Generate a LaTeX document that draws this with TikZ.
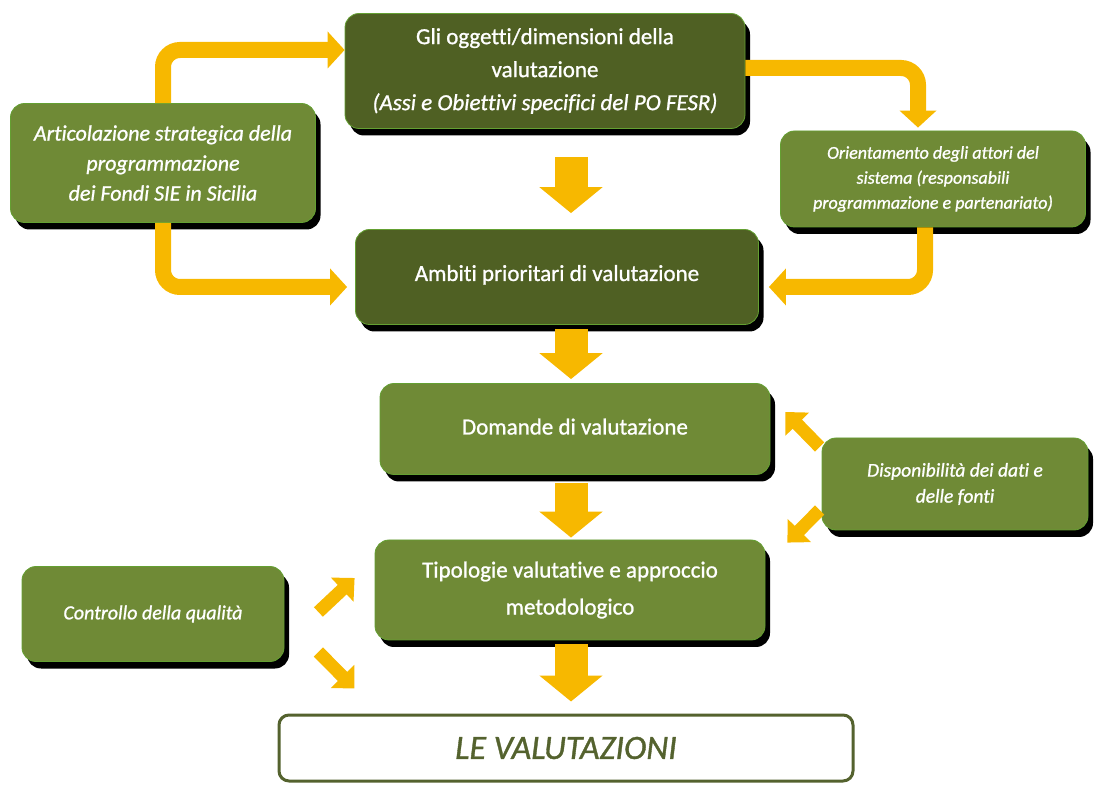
\documentclass[tikz,border=0pt]{standalone}
\usepackage{fontspec}
\setmainfont{Carlito}[Ligatures=NoCommon,
  BoldFont={Carlito}, BoldFeatures={FakeBold=1},
  BoldItalicFont={Carlito Italic}, BoldItalicFeatures={FakeBold=1}]
\usetikzlibrary{arrows.meta,shadows}

\definecolor{darkolive}{RGB}{79,96,35}
\definecolor{lightolive}{RGB}{111,138,54}
\definecolor{boxedge}{RGB}{100,160,50}
\definecolor{arrowgold}{RGB}{247,184,0}
\definecolor{resultolive}{RGB}{84,98,46}

\begin{document}
\begin{tikzpicture}[
    x=1pt, y=1pt,
    box/.style={rounded corners=14pt, draw=boxedge, line width=0.8pt, align=center, text=white, inner sep=4pt,
      drop shadow={shadow xshift=5pt, shadow yshift=-7pt, fill=black, opacity=1}},
    darkbox/.style={box, fill=darkolive, font=\fontsize{23}{33}\selectfont\bfseries},
    lightbox/.style={box, fill=lightolive, font=\fontsize{23}{37}\selectfont\bfseries},
    sidebox/.style={box, fill=lightolive, font=\fontsize{18}{25}\selectfont\bfseries\itshape},
    resultbox/.style={draw=resultolive, line width=3pt, rounded corners=10pt, fill=white, text=resultolive,
      font=\fontsize{34}{40}\selectfont\bfseries\itshape},
    bendarrow/.style={draw=arrowgold, line width=16pt, rounded corners=17pt, -{Triangle[length=17pt,width=36pt]}},
    blockarrow/.style={draw=arrowgold, line width=33pt, -{Triangle[length=26pt,width=62pt]}},
    smallarrow/.style={draw=arrowgold, line width=13pt, -{Triangle[length=17pt,width=32pt]}}
  ]
    \useasboundingbox (0,0) rectangle (1099,784);

    \node[darkbox, minimum width=400pt, minimum height=115pt] (obiettivi) at (545,713)
      {Gli oggetti/dimensioni della\\valutazione\\\textit{(Assi e Obiettivi specifici del PO FESR)}};
    \node[sidebox, font=\fontsize{22}{30}\selectfont\bfseries\itshape, minimum width=305pt, minimum height=119pt] (articolazione) at (163,621)
      {Articolazione strategica della\\programmazione\\dei Fondi SIE in Sicilia};
    \node[sidebox, minimum width=305pt, minimum height=96pt] (orientamento) at (933,605)
      {Orientamento degli attori del\\sistema (responsabili\\programmazione e partenariato)};
    \node[darkbox, minimum width=403pt, minimum height=95pt] (ambiti) at (557,507)
      {\raisebox{8pt}{Ambiti prioritari di valutazione}};
    \node[lightbox, minimum width=390pt, minimum height=91pt] (domande) at (575,355)
      {\raisebox{5pt}{Domande di valutazione}};
    \node[sidebox, font=\fontsize{19.5}{26}\selectfont\bfseries\itshape, minimum width=266pt, minimum height=92pt] (disponibilita) at (955,300)
      {Disponibilità dei dati e\\delle fonti};
    \node[lightbox, minimum width=390pt, minimum height=100pt] (tipologie) at (570,194)
      {Tipologie valutative e approccio\\metodologico};
    \node[sidebox, font=\fontsize{20}{25}\selectfont\bfseries\itshape, minimum width=262pt, minimum height=95pt] (qualita) at (153,170)
      {Controllo della qualità};
    \node[resultbox, minimum width=574pt, minimum height=66pt] (valutazioni) at (566,36)
      {LE VALUTAZIONI};

    \coordinate (spine) at (571,0);

    \draw[bendarrow] (articolazione.north) |- ([yshift=21pt]obiettivi.west);
    \draw[bendarrow] (articolazione.south) |- ([yshift=-10pt, xshift=-8pt]ambiti.west);
    \draw[bendarrow] ([yshift=3pt]obiettivi.east) -| ([xshift=-15pt, yshift=3pt]orientamento.north);
    \draw[bendarrow] ([xshift=-8pt]orientamento.south) |- ([yshift=-10pt, xshift=10pt]ambiti.east);

    \draw[blockarrow, shorten <=28pt, shorten >=16pt] (obiettivi.south -| spine) -- (ambiti.north -| spine);
    \draw[blockarrow, shorten <=4pt, shorten >=4pt] (ambiti.south -| spine) -- (domande.north -| spine);
    \draw[blockarrow, shorten <=8pt, shorten >=2pt] (domande.south -| spine) -- (tipologie.north -| spine);
    \draw[blockarrow, shorten <=4pt, shorten >=12pt] (tipologie.south -| spine) -- (valutazioni.north -| spine);

    \draw[smallarrow] ([shift={(-2pt,37pt)}]disponibilita.west) -- ([shift={(15pt,17pt)}]domande.east);
    \draw[smallarrow] ([shift={(-2pt,-26pt)}]disponibilita.west) -- ([shift={(22pt,-3pt)}]tipologie.north east);
    \draw[smallarrow] ([shift={(34pt,2pt)}]qualita.east) -- ([shift={(-20pt,12pt)}]tipologie.west);
    \draw[smallarrow] ([shift={(34pt,-38pt)}]qualita.east) -- ([shift={(77pt,25pt)}]valutazioni.north west);
  \end{tikzpicture}
\end{document}
